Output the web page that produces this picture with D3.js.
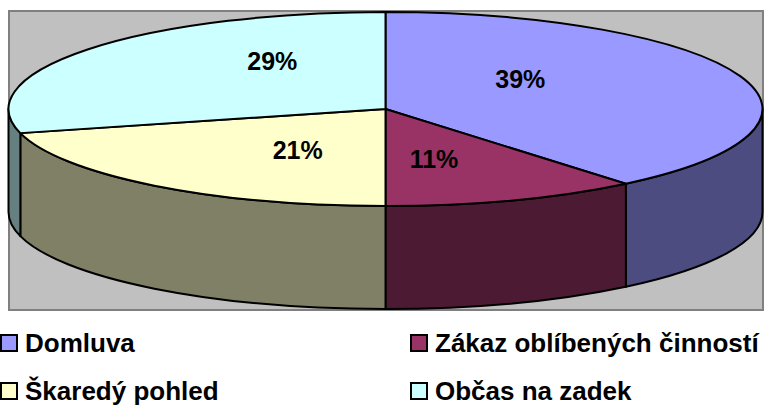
<!DOCTYPE html>
<html>
<head>
<meta charset="utf-8">
<script src="https://cdn.jsdelivr.net/npm/d3@7"></script>
<style>
  body { margin: 0; background: #fff; }
  text { font-family: "Liberation Sans", Arial, sans-serif; font-weight: bold; }
</style>
</head>
<body>
<svg class="chart" width="771" height="407"></svg>
<script>
// data
let categories = ["Domluva", "Zákaz oblíbených činností", "Škaredý pohled", "Občas na zadek"]
let values = [39, 11, 21, 29]
let topColors = ["#9999FF", "#993366", "#FFFFCC", "#CCFFFF"]
let sideColors = ["#4C4C80", "#4D1A33", "#808066", "#668080"]

let width = 771, height = 407
let plot = {x: 9, y: 11, w: 754, h: 299}
let cx = 385.5, cy = 109, rx = 377, ry = 97, depth = 103

let svg = d3.select(".chart")

svg.append("rect")//grey plot area
  .attr("x", plot.x).attr("y", plot.y)
  .attr("width", plot.w).attr("height", plot.h)
  .attr("fill", "#C0C0C0")
  .attr("stroke", "#808080")
  .attr("stroke-width", 2)

let pie = d3.pie().sort(null).value(d => d)
let arcs = pie(values)

// angle (0 at top, clockwise) -> point on the flattened ellipse
function pt(a, dy) {
  return [cx + rx * Math.sin(a), cy - ry * Math.cos(a) + (dy || 0)]
}

function topPath(d) {
  let p0 = pt(d.startAngle), p1 = pt(d.endAngle)
  let large = d.endAngle - d.startAngle > Math.PI ? 1 : 0
  return "M" + cx + "," + cy + "L" + p0 + "A" + rx + "," + ry + " 0 " + large + " 1 " + p1 + "Z"
}

function sidePath(d) {
  let b0 = Math.max(d.startAngle, Math.PI / 2), b1 = Math.min(d.endAngle, Math.PI * 1.5)
  if (b1 <= b0) return null
  let p0 = pt(b0), p1 = pt(b1), q0 = pt(b0, depth), q1 = pt(b1, depth)
  return "M" + p0 + "A" + rx + "," + ry + " 0 0 1 " + p1 + "L" + q1 +
    "A" + rx + "," + ry + " 0 0 0 " + q0 + "Z"
}

// sides first, only front half visible
svg.selectAll(".side")
  .data(arcs.filter(d => sidePath(d)))
  .enter().append("path")
  .attr("class", "side")
  .attr("d", sidePath)
  .attr("fill", d => sideColors[d.index])
  .attr("stroke", "#000")
  .attr("stroke-width", 2)
  .attr("stroke-linejoin", "round")

svg.selectAll(".top")
  .data(arcs)
  .enter().append("path")
  .attr("class", "top")
  .attr("d", topPath)
  .attr("fill", d => topColors[d.index])
  .attr("stroke", "#000")
  .attr("stroke-width", 2)
  .attr("stroke-linejoin", "round")

// percent labels (excel puts them a bit above the true centre)
let fx = 0.38, fy = 0.65, lblCy = cy - 9
svg.selectAll(".lbl")
  .data(arcs)
  .enter().append("text")
  .attr("class", "lbl")
  .attr("x", d => { let m = (d.startAngle + d.endAngle) / 2; return cx + rx * fx * Math.sin(m) })
  .attr("y", d => { let m = (d.startAngle + d.endAngle) / 2; return lblCy - ry * fy * Math.cos(m) })
  .attr("dy", "0.36em")
  .attr("text-anchor", "middle")
  .style("font-size", "25px")
  .attr("fill", "#000")
  .text(d => d.data + "%")

// legend, two columns
let legX = [1, 411], legY = [352, 400]
let leg = svg.selectAll(".leg")
  .data(categories)
  .enter().append("g")
  .attr("class", "leg")
  .attr("transform", (d, i) => "translate(" + legX[i % 2] + "," + legY[Math.floor(i / 2)] + ")")
leg.append("rect")
  .attr("x", 0).attr("y", -17)
  .attr("width", 16).attr("height", 16)
  .attr("fill", (d, i) => topColors[i])
  .attr("stroke", "#000")
  .attr("stroke-width", 2)
leg.append("text")
  .attr("x", 24).attr("y", 0)
  .style("font-size", "26px")
  .attr("fill", "#000")
  .text(d => d)
</script>
</body>
</html>
